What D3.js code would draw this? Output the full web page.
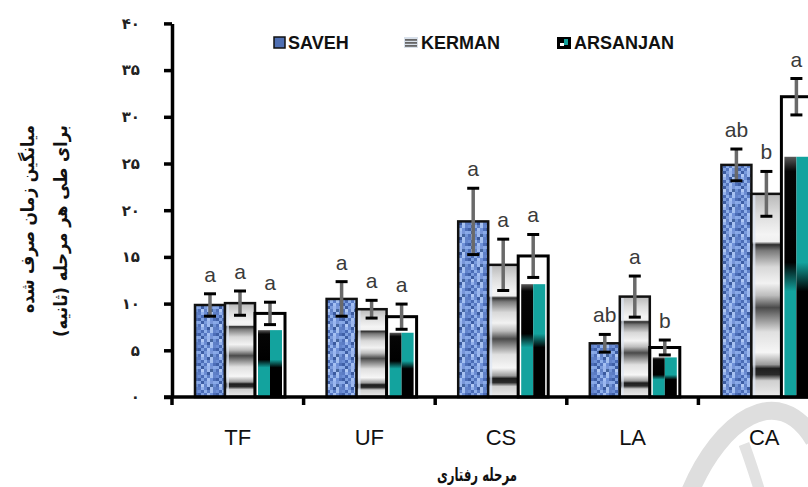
<!DOCTYPE html>
<html><head><meta charset="utf-8">
<script src="https://cdn.jsdelivr.net/npm/d3@7"></script>
<style>body{margin:0;background:#fff}svg{display:block}</style>
</head><body>
<svg id="chart" width="808" height="487"></svg>
<script>
// ---------- data ----------
const categories = ["TF", "UF", "CS", "LA", "CA"];
const seriesNames = ["SAVEH", "KERMAN", "ARSANJAN"];
const saveh    = [9.85, 10.5, 18.8, 5.75, 24.85];
const kerman   = [10.05, 9.4, 14.15, 10.75, 21.75];
const arsanjan = [8.95, 8.6, 15.1, 5.3, 32.15];
const savehErr    = [1.2, 1.85, 3.55, 0.95, 1.7];
const kermanErr   = [1.3, 0.95, 2.75, 2.2, 2.4];
const arsanjanErr = [1.2, 1.35, 2.3, 0.8, 1.95];
const savehLetters    = ["a", "a", "a", "ab", "ab"];
const kermanLetters   = ["a", "a", "a", "a", "b"];
const arsanjanLetters = ["a", "a", "a", "b", "a"];
const yTicks = [0, 5, 10, 15, 20, 25, 30, 35, 40];
const yTickLabels = ["۰", "۵", "۱۰", "۱۵", "۲۰", "۲۵", "۳۰", "۳۵", "۴۰"];
const yTitleLines = ["میانگین زمان صرف شده", "برای طی هر مرحله (ثانیه)"];
const xTitle = "مرحله رفتاری";

// ---------- build table ----------
const values = [saveh, kerman, arsanjan];
const errs = [savehErr, kermanErr, arsanjanErr];
const letters = [savehLetters, kermanLetters, arsanjanLetters];
const rows = [];
categories.forEach((c, i) => {
  seriesNames.forEach((s, j) => {
    rows.push({cat: c, series: s, si: j, v: values[j][i], e: errs[j][i], l: letters[j][i]});
  });
});

const svg = d3.select("#chart");
const x0 = d3.scaleBand().domain(categories).range([172, 830]).padding(0);
const x1 = d3.scaleBand().domain(seriesNames).range([23, 113]).padding(0);
const y = d3.scaleLinear().domain([0, 40]).range([397, 23.4]);

// ---------- defs ----------
const defs = svg.append("defs");
const tileColors = ["#6d8fd6","#4a6bb5","#8fb0ea","#5d7fc8","#a3bff0","#6384cc","#3f5fa6","#7ea0e0",
                    "#5576c0","#a5c0f2","#6f91d8","#4d6eb8","#86a7e6","#3d5da3","#7b9cdd","#9ab6ee",
                    "#7896d9","#8aaae8","#5070b9","#b0c8f4","#6283c9","#9fbaef","#46669f","#7194d8",
                    "#5a7bc4","#93b1ec","#6b8cd3","#3a5a9e","#a8c2f1","#5f80c6","#84a4e4","#4f70b6"];
const pat = defs.append("pattern").attr("id", "savehPat").attr("patternUnits", "userSpaceOnUse")
  .attr("width", 18).attr("height", 15);
pat.append("rect").attr("width", 18).attr("height", 15).attr("fill", "#7594d8");
tileColors.forEach((col, k) => {
  const cx = (k % 6) * 3, cy = Math.floor(k / 6) * 3;
  pat.append("rect").attr("x", cx).attr("y", cy).attr("width", 3).attr("height", 3).attr("fill", col);
});

const kg = defs.append("linearGradient").attr("id", "kermanGrad").attr("x1", 0).attr("y1", 0).attr("x2", 0).attr("y2", 1);
[[0,"#b8b8b8"],[0.1,"#dcdcdc"],[0.2,"#f4f4f4"],[0.235,"#f0f0f0"],[0.25,"#2e2e2e"],[0.28,"#7a7a7a"],[0.36,"#d8d8d8"],
 [0.44,"#f2f2f2"],[0.5,"#bdbdbd"],[0.56,"#4a4a4a"],[0.6,"#7d7d7d"],[0.68,"#e0e0e0"],[0.78,"#f6f6f6"],
 [0.84,"#9a9a9a"],[0.86,"#1e1e1e"],[0.89,"#2a2a2a"],[0.92,"#d0d0d0"],[1,"#ececec"]]
  .forEach(([o, c]) => kg.append("stop").attr("offset", o).attr("stop-color", c));

const teal = "#13a39e";
const gl = defs.append("linearGradient").attr("id", "arsL").attr("x1", 0).attr("y1", 0).attr("x2", 0).attr("y2", 1);
[[0,"#5a5a5a"],[0.06,"#050505"],[0.44,"#000"],[0.56,teal],[1,teal]]
  .forEach(([o, c]) => gl.append("stop").attr("offset", o).attr("stop-color", c));
const gr = defs.append("linearGradient").attr("id", "arsR").attr("x1", 0).attr("y1", 0).attr("x2", 0).attr("y2", 1);
[[0,teal],[0.44,teal],[0.56,"#000"],[1,"#000"]]
  .forEach(([o, c]) => gr.append("stop").attr("offset", o).attr("stop-color", c));

// ---------- watermark ----------
svg.append("path").attr("d", "M 690 492 C 720 420, 778 380, 814 440")
  .attr("fill", "none").attr("stroke", "#dedede").attr("stroke-width", 18);
svg.append("path").attr("d", "M 744 444 C 750 460, 755 476, 760 492")
  .attr("fill", "none").attr("stroke", "#e2e2e2").attr("stroke-width", 11);

// ---------- bars ----------
const g = svg.append("g");
const barW = x1.bandwidth();
rows.forEach(d => {
  const bx = x0(d.cat) + x1(d.series);
  const top = y(d.v), h = y(0) - y(d.v);
  if (d.si === 0) {
    g.append("rect").attr("x", bx).attr("y", top).attr("width", barW).attr("height", h)
      .attr("fill", "url(#savehPat)").attr("stroke", "#111").attr("stroke-width", 2.5);
  } else if (d.si === 1) {
    g.append("rect").attr("x", bx).attr("y", top).attr("width", barW).attr("height", h)
      .attr("fill", "url(#kermanGrad)").attr("stroke", "#111").attr("stroke-width", 2.5);
    g.append("rect").attr("x", bx + 1.5).attr("y", top + 1.5).attr("width", 2.5).attr("height", Math.max(0, h - 3))
      .attr("fill", "#dfe8f6").attr("opacity", 0.7);
  } else {
    g.append("rect").attr("x", bx).attr("y", top).attr("width", barW).attr("height", h)
      .attr("fill", "#fff").attr("stroke", "#000").attr("stroke-width", 3);
    const ih = (y(0) - y(d.v * 0.8));
    const iw = (barW - 6) / 2;
    g.append("rect").attr("x", bx + 3).attr("y", y(0) - ih).attr("width", iw).attr("height", ih).attr("fill", "url(#arsL)");
    g.append("rect").attr("x", bx + 3 + iw).attr("y", y(0) - ih).attr("width", iw).attr("height", ih).attr("fill", "url(#arsR)");
  }
});

// ---------- error bars & letters ----------
rows.forEach(d => {
  const cx = x0(d.cat) + x1(d.series) + barW / 2;
  const yt = y(d.v + d.e), yb = y(d.v - d.e);
  g.append("line").attr("x1", cx).attr("x2", cx).attr("y1", yt).attr("y2", yb)
    .attr("stroke", "#6a6a6a").attr("stroke-width", 3.5);
  [yt, yb].forEach(yy => g.append("line").attr("x1", cx - 6).attr("x2", cx + 6).attr("y1", yy).attr("y2", yy)
    .attr("stroke", "#000").attr("stroke-width", 3));
  g.append("text").attr("x", cx).attr("y", yt - 12).attr("text-anchor", "middle")
    .attr("font-family", "Liberation Sans, Arial, sans-serif").attr("font-size", 21)
    .attr("fill", "#3a3a3a").text(d.l);
});

// ---------- axes ----------
const yAxis = d3.axisLeft(y).tickValues(yTicks).tickFormat((d, i) => yTickLabels[i])
  .tickSize(8).tickSizeOuter(0).tickPadding(24);
const ya = svg.append("g").attr("transform", "translate(172,0)").call(yAxis);
ya.select(".domain").attr("stroke", "#000").attr("stroke-width", 3.5);
ya.selectAll(".tick line").attr("stroke", "#000").attr("stroke-width", 3.5);
ya.selectAll(".tick text").attr("font-family", "DejaVu Sans, sans-serif").attr("font-size", 15)
  .attr("font-weight", "bold").attr("fill", "#222");

const xa = svg.append("g");
xa.append("line").attr("x1", 164).attr("x2", 808).attr("y1", y(0)).attr("y2", y(0))
  .attr("stroke", "#000").attr("stroke-width", 3.5);
categories.forEach(c => {
  xa.append("line").attr("x1", x0(c)).attr("x2", x0(c)).attr("y1", y(0)).attr("y2", y(0) + 8)
    .attr("stroke", "#000").attr("stroke-width", 3.5);
  xa.append("text").attr("x", x0(c) + x0.bandwidth() / 2).attr("y", 445).attr("text-anchor", "middle")
    .attr("font-family", "Liberation Sans, Arial, sans-serif").attr("font-size", 22).attr("fill", "#111").text(c);
});

// ---------- titles ----------
const ytBase = [34, 67];
const ytLen = [188, 212];
yTitleLines.forEach((t, i) => {
  svg.append("text").attr("transform", `translate(${ytBase[i]},125) rotate(-90)`)
    .attr("direction", "rtl").style("direction", "rtl").attr("text-anchor", "start")
    .attr("textLength", ytLen[i]).attr("lengthAdjust", "spacingAndGlyphs")
    .attr("font-family", "DejaVu Sans, sans-serif").attr("font-weight", "bold").attr("font-size", 18)
    .attr("fill", "#111").text(t);
});
svg.append("text").attr("x", 477).attr("y", 481).attr("text-anchor", "middle")
  .attr("direction", "rtl").style("direction", "rtl")
  .attr("textLength", 80).attr("lengthAdjust", "spacingAndGlyphs")
  .attr("font-family", "DejaVu Sans, sans-serif").attr("font-weight", "bold").attr("font-size", 18)
  .attr("fill", "#111").text(xTitle);

// ---------- legend ----------
const legendX = [274, 404, 557];
const lg = svg.append("g");
seriesNames.forEach((s, i) => {
  const lx = legendX[i];
  if (i === 0) {
    lg.append("rect").attr("x", lx).attr("y", 37).attr("width", 11).attr("height", 11)
      .attr("fill", "#4f6fb2").attr("stroke", "#111").attr("stroke-width", 1.5);
  } else if (i === 1) {
    lg.append("rect").attr("x", lx).attr("y", 37).attr("width", 14).attr("height", 11).attr("fill", "#d8e0ea");
    [39, 42, 45].forEach(yy => lg.append("rect").attr("x", lx + 1).attr("y", yy).attr("width", 12).attr("height", 1.8).attr("fill", "#666"));
  } else {
    lg.append("rect").attr("x", lx).attr("y", 37).attr("width", 14).attr("height", 12).attr("fill", "#000");
    lg.append("rect").attr("x", lx + 7).attr("y", 39).attr("width", 4).attr("height", 6).attr("fill", teal);
    lg.append("rect").attr("x", lx + 3).attr("y", 43).attr("width", 4).attr("height", 3).attr("fill", "#fff");
  }
  lg.append("text").attr("x", lx + (i === 0 ? 14 : 17)).attr("y", 49)
    .attr("font-family", "Liberation Sans, Arial, sans-serif").attr("font-weight", "bold").attr("font-size", 18)
    .attr("fill", "#111").text(s);
});
</script>
</body></html>
